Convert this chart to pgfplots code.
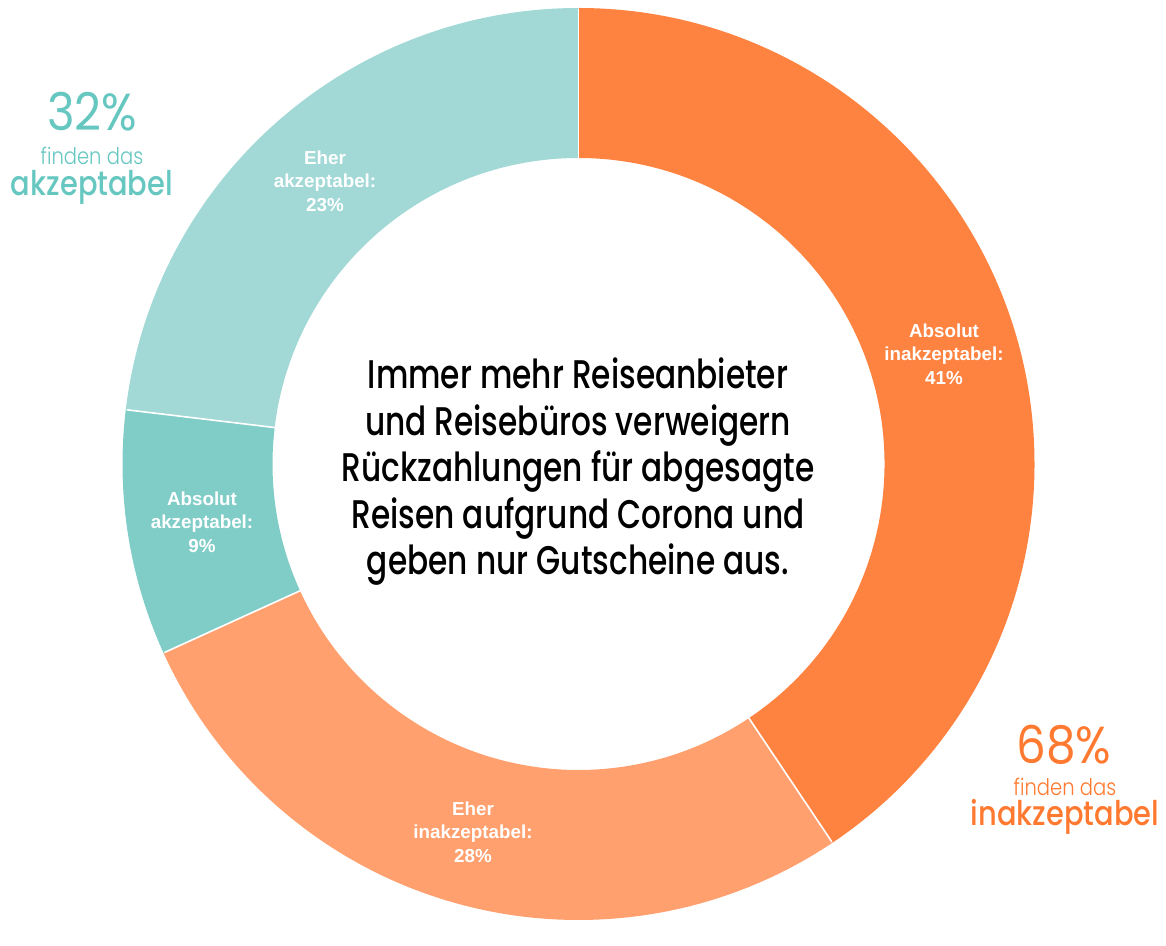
\documentclass[border=0pt]{standalone}
\usepackage{pgfplots}
\pgfplotsset{compat=1.18}
\usepackage{fontspec}
\setmainfont{Liberation Sans}
\newfontfamily\fut{Poppins}[FakeStretch=0.9]
\newfontfamily\futm{Poppins Medium}[FakeStretch=0.85]
\newfontfamily\futc{Poppins Medium}[FakeStretch=0.78]
\newfontfamily\futl{Poppins Light}[FakeStretch=0.85]
\definecolor{oA}{HTML}{FF8340}
\definecolor{oB}{HTML}{FFA06E}
\definecolor{tA}{HTML}{80CDC8}
\definecolor{tB}{HTML}{A2D9D6}
\definecolor{tT}{HTML}{66C7C0}
\definecolor{oT}{HTML}{FF7A30}
% shares (percent), clockwise from the top
\def\vA{40.6}% Absolut inakzeptabel (41%)
\def\vB{27.6}% Eher inakzeptabel (28%)
\def\vC{8.7}%  Absolut akzeptabel (9%)
\def\vD{23.1}% Eher akzeptabel (23%)
\newcommand\ring[3]{%
  \fill[#1] (axis cs:{578.5+456*cos(#2)},{455+456*sin(#2)})
    arc[start angle=#2,end angle=#3,radius=228pt]
    -- (axis cs:{578.5+306*cos(#3)},{455+306*sin(#3)})
    arc[start angle=#3,end angle=#2,radius=153pt] -- cycle;}
\newcommand\sep[1]{%
  \draw[white,line width=0.8pt] (axis cs:{578.5+305*cos(#1)},{455+305*sin(#1)})
    -- (axis cs:{578.5+455*cos(#1)},{455+455*sin(#1)});}
\begin{document}
\begin{tikzpicture}
\pgfmathsetmacro\tot{\vA+\vB+\vC+\vD}
\pgfmathsetmacro\aA{90-360*\vA/\tot}
\pgfmathsetmacro\aB{\aA-360*\vB/\tot}
\pgfmathsetmacro\aC{\aB-360*\vC/\tot}
\pgfmathsetmacro\aD{\aC-360*\vD/\tot}
\begin{axis}[hide axis, scale only axis, width=583pt, height=459.5pt,
  xmin=0, xmax=1166, ymin=0, ymax=919, clip=false]
\path (axis cs:0,0) rectangle (axis cs:1166,919);
\ring{oA}{90}{\aA}
\ring{oB}{\aA}{\aB}
\ring{tA}{\aB}{\aC}
\ring{tB}{\aC}{\aD}
\sep{90}\sep{\aA}\sep{\aB}\sep{\aC}
\tikzset{lbl/.style={align=center,text=white,font=\bfseries\fontsize{9.4}{11.75}\selectfont}}
\node[lbl] at (axis cs:944,565) {Absolut\\inakzeptabel:\\41\%};
\node[lbl] at (axis cs:473,87) {Eher\\inakzeptabel:\\28\%};
\node[lbl] at (axis cs:202,397) {Absolut\\akzeptabel:\\9\%};
\node[lbl] at (axis cs:325,738) {Eher\\akzeptabel:\\23\%};
\node[align=center,font=\futc\fontsize{20}{23.25}\selectfont] at (axis cs:578,447)
  {Immer mehr Reiseanbieter\\und Reisebüros verweigern\\Rückzahlungen für abgesagte\\Reisen aufgrund Corona und\\geben nur Gutscheine aus.};
\node[text=tT,font=\fut\fontsize{26}{30}\selectfont] at (axis cs:92,807) {32\%};
\node[text=tT,font=\futl\fontsize{11.5}{13}\selectfont] at (axis cs:92,763) {finden das};
\node[text=tT,font=\futm\fontsize{17}{20}\selectfont] at (axis cs:92,732) {akzeptabel};
\node[text=oT,font=\fut\fontsize{26}{30}\selectfont] at (axis cs:1064,174) {68\%};
\node[text=oT,font=\futl\fontsize{11.5}{13}\selectfont] at (axis cs:1065,132) {finden das};
\node[text=oT,font=\futm\fontsize{17}{20}\selectfont] at (axis cs:1065,102) {inakzeptabel};
\end{axis}
\end{tikzpicture}
\end{document}
